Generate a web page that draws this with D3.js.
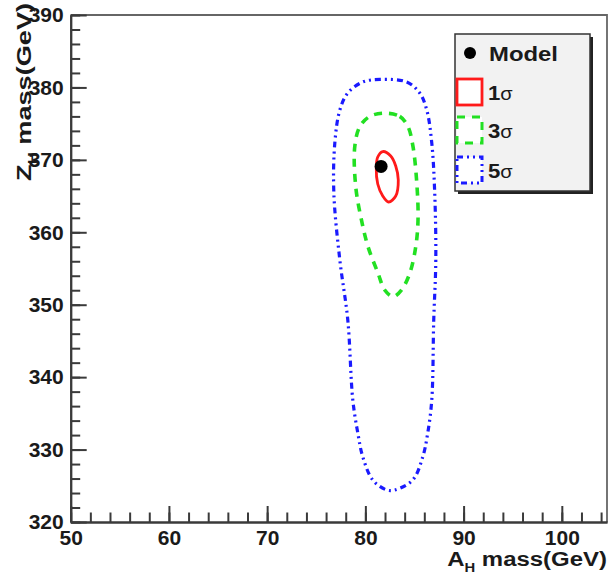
<!DOCTYPE html>
<html>
<head>
<meta charset="utf-8">
<script src="https://cdn.jsdelivr.net/npm/d3@7"></script>
<style>
  html, body { margin: 0; padding: 0; background: #fff; }
  svg { display: block; font-family: "Liberation Sans", Arial, Helvetica, sans-serif; }
</style>
</head>
<body>
<svg id="chart" width="609" height="576"></svg>
<script>
// Axis ranges and tick labels
const xRange = [50, 104.6];
const yRange = [320, 390];
const xTickLabels = [50, 60, 70, 80, 90, 100];
const yTickLabels = [320, 330, 340, 350, 360, 370, 380, 390];

// Best-fit model point (A_H mass, Z_H mass) in GeV
const modelPoint = [81.6, 369.1];

// Confidence contours, [A_H mass, Z_H mass]
const sigma1 = [[81.77,371.15],[82.58,370.53],[83.09,369.15],[83.35,367.22],[83.09,365.01],
  [82.36,364.18],[81.77,365.01],[81.26,366.67],[81.11,368.88],[81.26,370.39]];
const sigma3 = [[81.97,376.45],[83.5,376.0],[84.34,374.58],[84.85,371.82],[85.26,366.29],
  [85.36,361.70],[85.13,358.01],[84.52,354.34],[83.67,352.03],[82.82,351.11],[81.97,352.03],
  [81.29,354.34],[80.27,358.01],[79.60,361.70],[79.02,366.29],[78.92,371.82],[79.43,374.58],[80.45,376.0]];
const sigma5 = [[81.5,381.1],[84.21,380.75],[85.53,379.23],[86.25,376.88],[86.76,372.33],
  [87.06,365.42],[87.17,356.17],[86.96,347.89],[86.76,336.85],[86.35,332.29],[85.84,328.98],
  [84.82,325.80],[82.99,324.42],[82.18,324.42],[80.75,325.80],[79.74,328.98],[79.23,332.29],
  [78.72,336.85],[78.21,347.89],[77.40,356.17],[76.79,365.42],[76.89,372.33],[77.40,376.88],
  [78.21,379.23],[79.74,380.75]];

// Legend entries
const legendLabels = ["Model", "1", "3", "5"];

const svg = d3.select("#chart");
const frame = { left: 70.7, right: 607, top: 15, bottom: 522 };

const x = d3.scaleLinear().domain(xRange).range([frame.left, frame.right]);
const y = d3.scaleLinear().domain(yRange).range([frame.bottom, frame.top]);

const axisColor = "#3a3a3a";
const textColor = "#1a1a1a";
const contourStyles = [
  { data: sigma1, color: "#ff1a1a", width: 2.8, dash: null },
  { data: sigma3, color: "#22e022", width: 3.6, dash: "8,7" },
  { data: sigma5, color: "#1a1aff", width: 3.2, dash: "6,4,2,4,2,4" }
];

// Stretch a text element horizontally (in its own frame) to a given length
function stretchText(sel, target, placement) {
  const w = sel.node().getBBox().width;
  sel.attr("transform", `${placement} scale(${target / w},1)`);
}

// Frame top/right border
svg.append("path")
  .attr("d", `M${frame.left},${frame.top}H${frame.right}V${frame.bottom}`)
  .attr("fill", "none").attr("stroke", "#666").attr("stroke-width", 1.8);

// Contours
const line = d3.line().x(d => x(d[0])).y(d => y(d[1])).curve(d3.curveCatmullRomClosed.alpha(0.5));
svg.append("g").selectAll("path")
  .data(contourStyles)
  .join("path")
  .attr("d", d => line(d.data))
  .attr("fill", "none")
  .attr("stroke", d => d.color)
  .attr("stroke-width", d => d.width)
  .attr("stroke-dasharray", d => d.dash)
  .attr("stroke-linecap", "butt")
  .attr("stroke-linejoin", "round");

// Model point
svg.append("circle")
  .attr("cx", x(modelPoint[0])).attr("cy", y(modelPoint[1]))
  .attr("r", 6.5).attr("fill", "#000");

// Axes: majors every 10 GeV, minors every 2 GeV, ticks pointing into the frame
const minorX = d3.range(xRange[0], xRange[1] + 1e-6, 2);
const minorY = d3.range(yRange[0], yRange[1] + 1e-6, 2);

function styleAxis(g) {
  g.selectAll(".domain").attr("stroke", axisColor).attr("stroke-width", 2);
  g.selectAll(".tick line").attr("stroke", axisColor).attr("stroke-width", 2);
  g.selectAll(".tick text")
    .attr("fill", textColor)
    .attr("font-size", 21)
    .attr("font-weight", "bold");
}

svg.append("g")
  .attr("transform", `translate(0,${frame.bottom})`)
  .call(d3.axisBottom(x).tickValues(minorX).tickSizeInner(-9.5).tickSizeOuter(0).tickFormat(""))
  .call(styleAxis);
svg.append("g")
  .attr("transform", `translate(${frame.left},0)`)
  .call(d3.axisLeft(y).tickValues(minorY).tickSizeInner(-9.5).tickSizeOuter(0).tickFormat(""))
  .call(styleAxis);

const xAxisG = svg.append("g")
  .attr("transform", `translate(0,${frame.bottom})`)
  .call(d3.axisBottom(x).tickValues(xTickLabels).tickSizeInner(-16).tickSizeOuter(0).tickPadding(8).tickFormat(d3.format("d")))
  .call(styleAxis);
xAxisG.selectAll(".tick text").attr("dy", "0.72em");

svg.append("g")
  .attr("transform", `translate(${frame.left},0)`)
  .call(d3.axisLeft(y).tickValues(yTickLabels).tickSizeInner(-16).tickSizeOuter(0).tickPadding(7).tickFormat(d3.format("d")))
  .call(styleAxis);

// Axis titles
const xTitle = svg.append("text")
  .attr("text-anchor", "end")
  .attr("font-size", 21).attr("font-weight", "bold").attr("fill", textColor);
xTitle.append("tspan").text("A");
xTitle.append("tspan").attr("font-size", 13).attr("dy", 6).text("H");
xTitle.append("tspan").attr("dy", -6).text(" mass(GeV)");
stretchText(xTitle, 160, `translate(${frame.right},566)`);

const yTitle = svg.append("text")
  .attr("text-anchor", "end")
  .attr("font-size", 21).attr("font-weight", "bold").attr("fill", textColor);
yTitle.append("tspan").text("Z");
yTitle.append("tspan").attr("font-size", 13).attr("dy", 6).text("H");
yTitle.append("tspan").attr("dy", -6).text(" mass(GeV)");
stretchText(yTitle, 178, `translate(31,3) rotate(-90)`);

// Legend
const legend = svg.append("g");
const lg = { x: 455, y: 34, w: 135, h: 157 };
legend.append("rect")
  .attr("x", lg.x + 3).attr("y", lg.y + 3).attr("width", lg.w).attr("height", lg.h)
  .attr("fill", "#222");
legend.append("rect")
  .attr("x", lg.x).attr("y", lg.y).attr("width", lg.w).attr("height", lg.h)
  .attr("fill", "#f2f2f2").attr("stroke", "#333").attr("stroke-width", 1.5);

const rowY = [53, 92, 130, 170];
legend.append("circle").attr("cx", 470).attr("cy", rowY[0]).attr("r", 6).attr("fill", "#000");
legend.selectAll("rect.key")
  .data(contourStyles)
  .join("rect")
  .attr("class", "key")
  .attr("x", 457).attr("y", (d, i) => rowY[i + 1] - 13)
  .attr("width", 25).attr("height", 26)
  .attr("fill", "#fff")
  .attr("stroke", d => d.color)
  .attr("stroke-width", d => Math.min(d.width, 3))
  .attr("stroke-dasharray", d => d.dash);

legend.selectAll("text.lab")
  .data(legendLabels)
  .join("text")
  .attr("class", "lab")
  .attr("dy", "0.36em")
  .attr("font-size", 21).attr("font-weight", "bold").attr("fill", textColor)
  .each(function (d, i) {
    const t = d3.select(this);
    t.append("tspan").text(d);
    if (i > 0) t.append("tspan").attr("font-weight", "normal").attr("font-size", 19).text("σ");
    const w = this.getBBox().width;
    const target = i === 0 ? 69 : 25;
    t.attr("transform", `translate(${i === 0 ? 489 : 488},${rowY[i]}) scale(${target / w},1)`);
  });
</script>
</body>
</html>
